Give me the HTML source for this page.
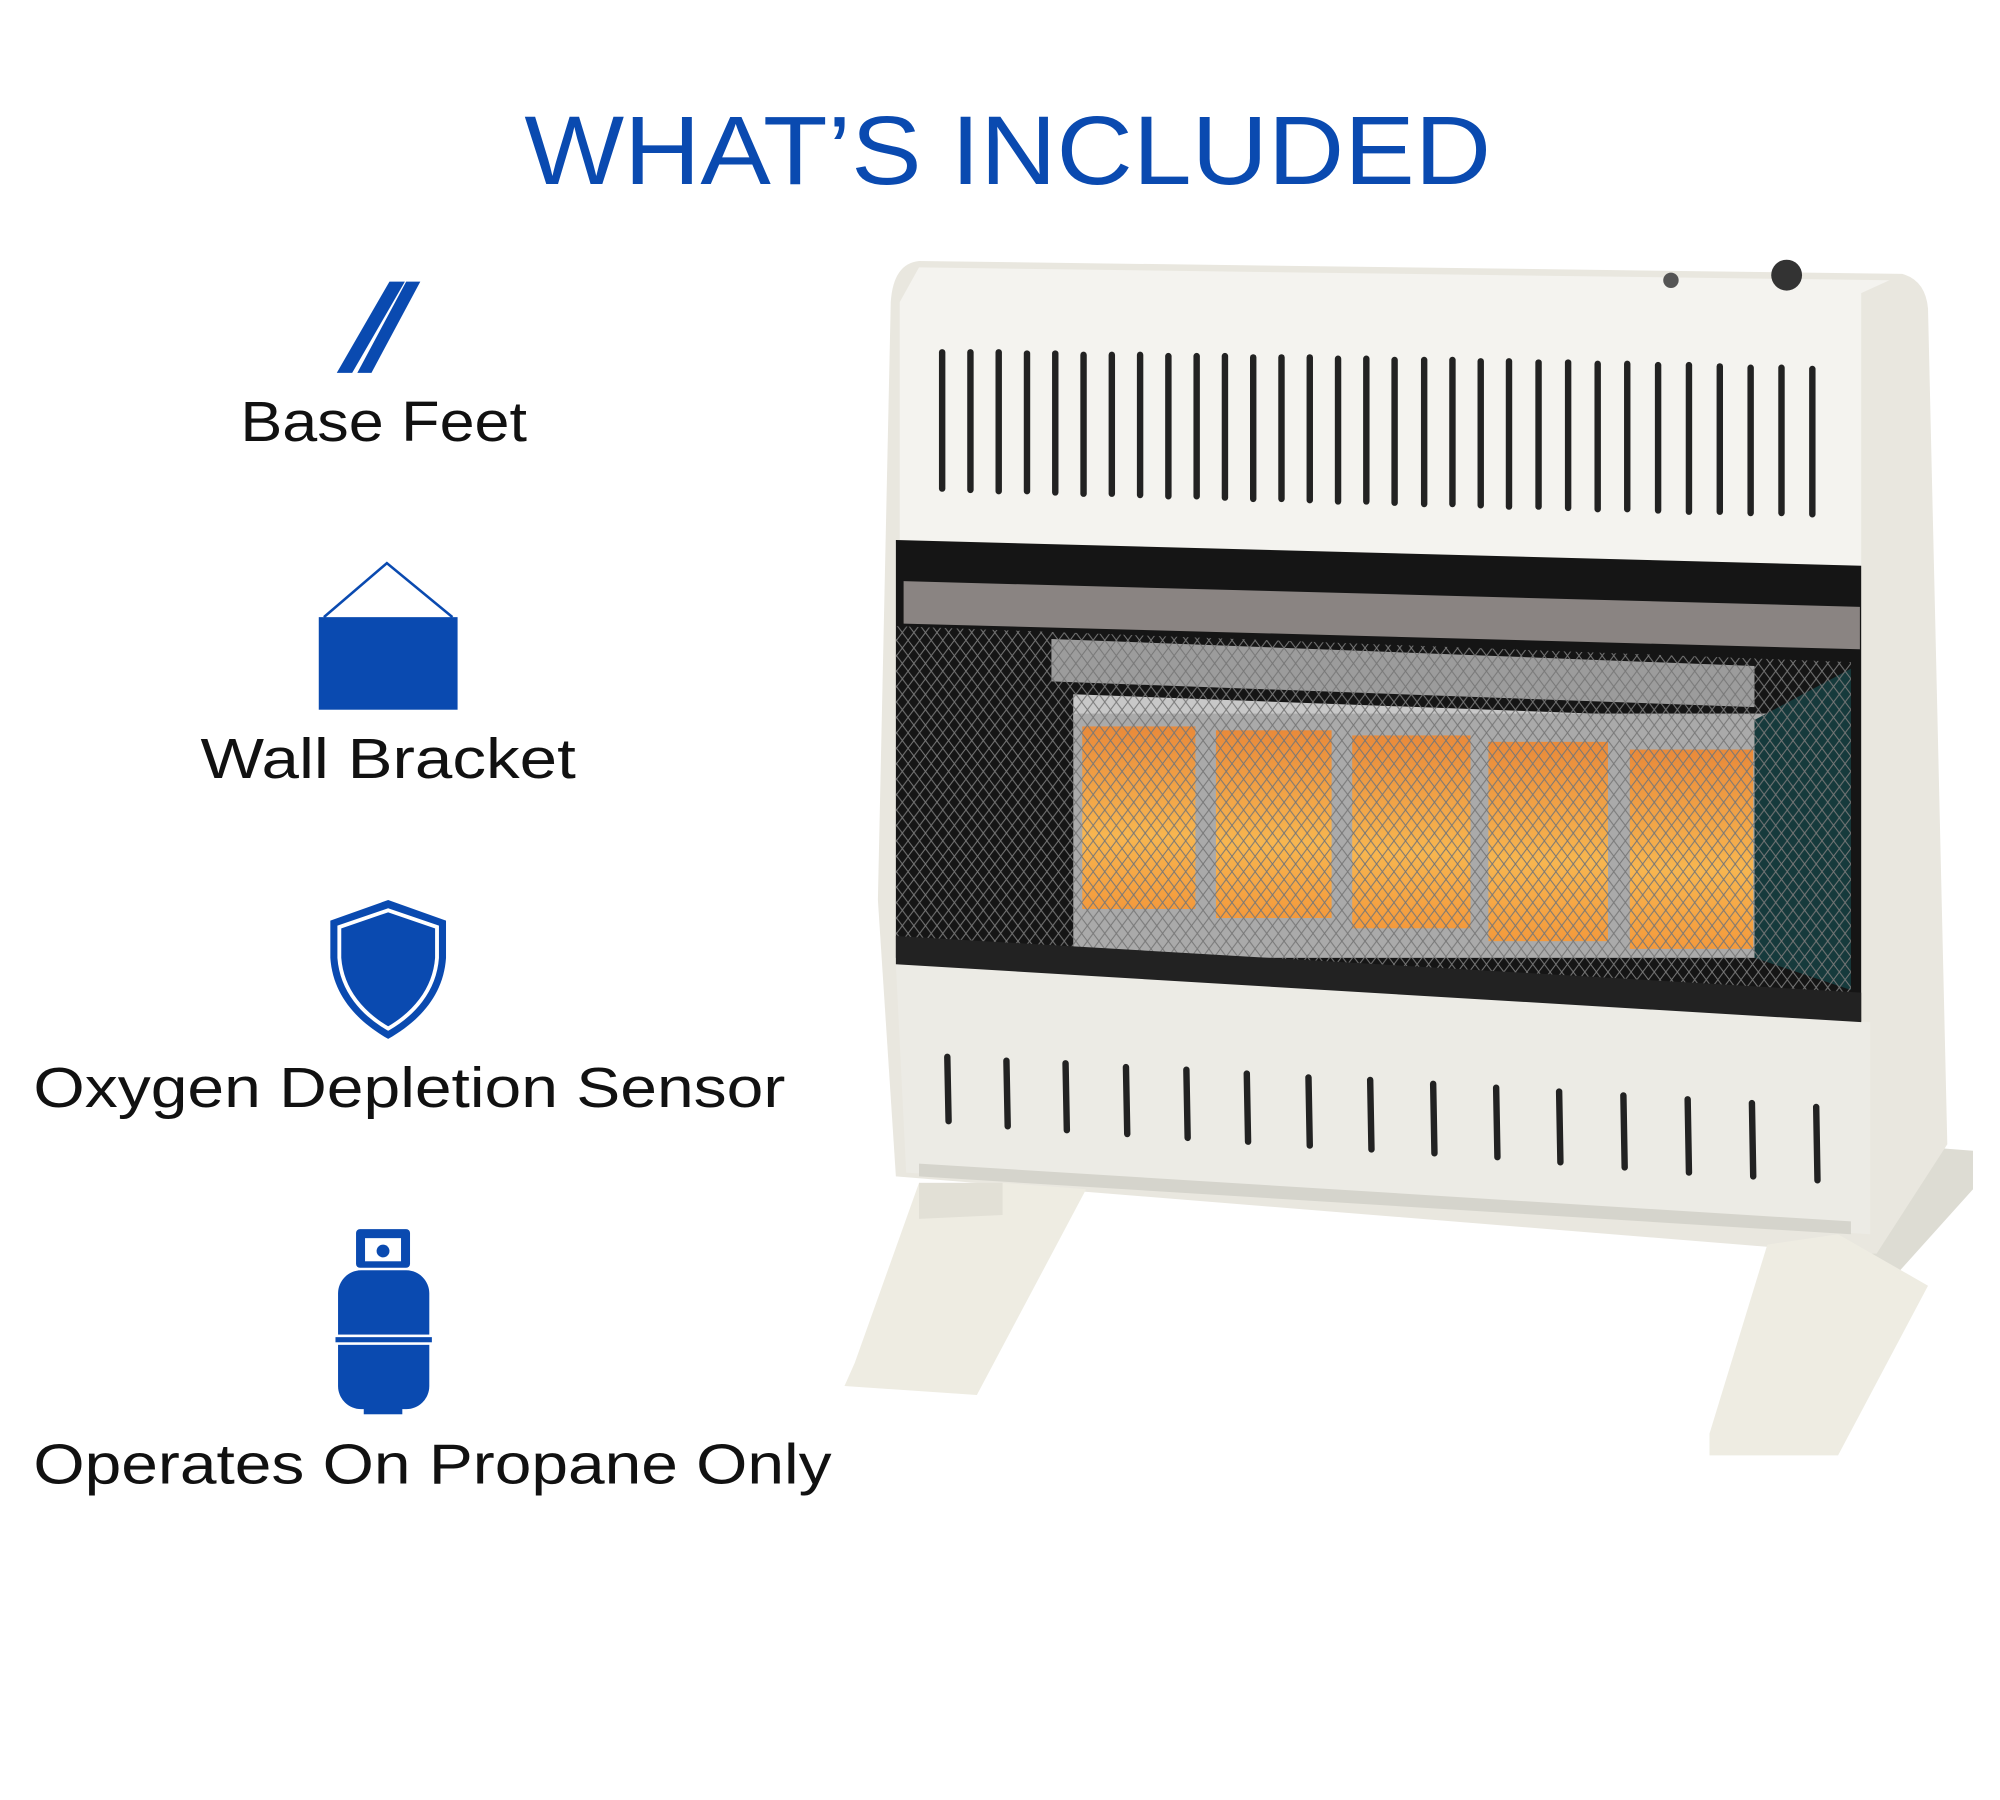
<!DOCTYPE html>
<html><head><meta charset="utf-8"><style>
html,body{margin:0;padding:0;background:#fff;width:2000px;height:1800px;overflow:hidden}
svg{display:block}
text{font-family:"Liberation Sans",sans-serif}
</style></head><body>
<svg width="2000" height="1800" viewBox="0 0 1556 1400" preserveAspectRatio="none" xmlns="http://www.w3.org/2000/svg">
<defs>
<pattern id="mesh" width="9" height="12" patternUnits="userSpaceOnUse">
<path d="M0 0 L4.5 6 L0 12 M9 0 L4.5 6 L9 12" stroke="#777" stroke-width="0.8" fill="none"/>
</pattern>
<linearGradient id="tile" x1="0" y1="0" x2="0" y2="1">
<stop offset="0" stop-color="#e98a3a"/><stop offset="0.6" stop-color="#f7b650"/><stop offset="1" stop-color="#f49a3c"/>
</linearGradient>
</defs>
<text x="408" y="143" font-size="76" fill="#0a4ab0" textLength="752" lengthAdjust="spacingAndGlyphs">WHAT’S INCLUDED</text>

<!-- base feet icon -->
<polygon points="303,219 315,219 274,290 262,290" fill="#0a4ab0"/>
<polygon points="316,219 327,219 289,290 278,290" fill="#0a4ab0"/>
<text x="187" y="343" font-size="44" fill="#111" textLength="223" lengthAdjust="spacingAndGlyphs">Base Feet</text>

<!-- wall bracket -->
<polyline points="252,480 301,438 352,480" fill="none" stroke="#0a4ab0" stroke-width="2"/>
<rect x="248" y="480" width="108" height="72" fill="#0a4ab0"/>
<text x="156" y="605" font-size="44" fill="#111" textLength="292" lengthAdjust="spacingAndGlyphs">Wall Bracket</text>

<!-- shield -->
<path d="M302,700 L347,716 L347,745 C345,775 325,795 302,808 C279,795 259,775 257,745 L257,716 Z" fill="#0a4ab0"/>
<path d="M302,708 L340,721 L340,745 C338,771 321,789 302,800 C283,789 266,771 264,745 L264,721 Z" fill="none" stroke="#fff" stroke-width="3"/>
<text x="26" y="861" font-size="44" fill="#111" textLength="585" lengthAdjust="spacingAndGlyphs">Oxygen Depletion Sensor</text>

<!-- propane -->
<rect x="277" y="956" width="42" height="30" rx="3" fill="#0a4ab0"/>
<rect x="284" y="963" width="28" height="18" fill="#fff"/>
<circle cx="298" cy="973" r="5" fill="#0a4ab0"/>
<rect x="263" y="988" width="71" height="108" rx="18" fill="#0a4ab0"/>
<rect x="260" y="1039" width="77" height="6" fill="#0a4ab0" stroke="#fff" stroke-width="2"/>
<rect x="283" y="1094" width="30" height="6" fill="#0a4ab0"/>
<text x="26" y="1154" font-size="44" fill="#111" textLength="621" lengthAdjust="spacingAndGlyphs">Operates On Propane Only</text>

<!-- heater -->
<polygon points="1470,890 1535,895 1535,925 1445,1025 1400,1000" fill="#dddcd3"/>
<path d="M715,203 L1480,213 Q1498,218 1500,240 L1515,890 L1460,975 L1440,975 L697,915 L683,700 L693,235 Q695,205 715,203 Z" fill="#e9e7df"/>
<path d="M715,208 L1470,218 L1448,228 L1448,440 L700,420 L700,235 Z" fill="#f4f3ef"/>
<circle cx="1390" cy="214" r="12" fill="#333"/>
<circle cx="1300" cy="218" r="6" fill="#555"/>
<g stroke="#222" stroke-width="5" stroke-linecap="round">
<line x1="733" y1="274" x2="733" y2="380"/><line x1="755" y1="274" x2="755" y2="381"/><line x1="777" y1="274" x2="777" y2="382"/><line x1="799" y1="275" x2="799" y2="382"/><line x1="821" y1="275" x2="821" y2="383"/><line x1="843" y1="276" x2="843" y2="384"/><line x1="865" y1="276" x2="865" y2="384"/><line x1="887" y1="276" x2="887" y2="385"/><line x1="909" y1="277" x2="909" y2="386"/><line x1="931" y1="277" x2="931" y2="386"/><line x1="953" y1="277" x2="953" y2="387"/><line x1="975" y1="278" x2="975" y2="388"/><line x1="997" y1="278" x2="997" y2="388"/><line x1="1019" y1="278" x2="1019" y2="389"/><line x1="1041" y1="279" x2="1041" y2="390"/><line x1="1063" y1="279" x2="1063" y2="390"/><line x1="1085" y1="280" x2="1085" y2="391"/><line x1="1108" y1="280" x2="1108" y2="392"/><line x1="1130" y1="280" x2="1130" y2="392"/><line x1="1152" y1="281" x2="1152" y2="393"/><line x1="1174" y1="281" x2="1174" y2="394"/><line x1="1197" y1="282" x2="1197" y2="394"/><line x1="1220" y1="282" x2="1220" y2="395"/><line x1="1243" y1="283" x2="1243" y2="396"/><line x1="1266" y1="283" x2="1266" y2="396"/><line x1="1290" y1="284" x2="1290" y2="397"/><line x1="1314" y1="284" x2="1314" y2="398"/><line x1="1338" y1="285" x2="1338" y2="398"/><line x1="1362" y1="286" x2="1362" y2="399"/><line x1="1386" y1="286" x2="1386" y2="399"/><line x1="1410" y1="287" x2="1410" y2="400"/>
</g>
<polygon points="697,420 1448,440 1448,795 697,745" fill="#151515"/>
<polygon points="703,452 1447,472 1447,505 703,485" fill="#8a8482"/>
<polygon points="818,497 1365,518 1365,550 818,530" fill="#9c9c9c"/>
<polygon points="835,540 1375,560 1375,580 835,560" fill="#c8c8c8"/>
<rect x="835" y="555" width="540" height="190" fill="#aaa"/>
<rect x="842" y="565" width="88" height="142" fill="url(#tile)"/>
<rect x="946" y="568" width="90" height="146" fill="url(#tile)"/>
<rect x="1052" y="572" width="92" height="150" fill="url(#tile)"/>
<rect x="1158" y="577" width="93" height="155" fill="url(#tile)"/>
<rect x="1268" y="583" width="96" height="155" fill="url(#tile)"/>
<polygon points="1365,560 1440,520 1440,770 1365,745" fill="#163a3c"/>
<polygon points="697,487 1440,515 1440,775 697,735" fill="url(#mesh)"/>
<polygon points="697,750 1455,795 1455,960 705,912" fill="#ecebe5"/>
<polygon points="697,728 1448,772 1448,795 697,750" fill="#222"/>
<g stroke="#222" stroke-width="5" stroke-linecap="round">
<line x1="737" y1="822" x2="738" y2="872"/><line x1="783" y1="825" x2="784" y2="876"/><line x1="829" y1="827" x2="830" y2="879"/><line x1="876" y1="830" x2="877" y2="882"/><line x1="923" y1="832" x2="924" y2="885"/><line x1="970" y1="835" x2="971" y2="888"/><line x1="1018" y1="838" x2="1019" y2="891"/><line x1="1066" y1="840" x2="1067" y2="894"/><line x1="1115" y1="843" x2="1116" y2="897"/><line x1="1164" y1="846" x2="1165" y2="900"/><line x1="1213" y1="849" x2="1214" y2="904"/><line x1="1263" y1="852" x2="1264" y2="908"/><line x1="1313" y1="855" x2="1314" y2="912"/><line x1="1363" y1="858" x2="1364" y2="915"/><line x1="1413" y1="861" x2="1414" y2="918"/>
</g>
<polygon points="715,905 1440,950 1440,960 715,915" fill="#d5d4cc"/>
<!-- legs -->
<polygon points="715,920 780,920 845,925 760,1085 657,1078 665,1060" fill="#eeece2"/>
<polygon points="715,920 780,920 780,945 715,948" fill="#e2e0d6"/>
<polygon points="1375,968 1430,960 1500,1000 1430,1132 1330,1132 1330,1115" fill="#eeece2"/>
</svg>
</body></html>
